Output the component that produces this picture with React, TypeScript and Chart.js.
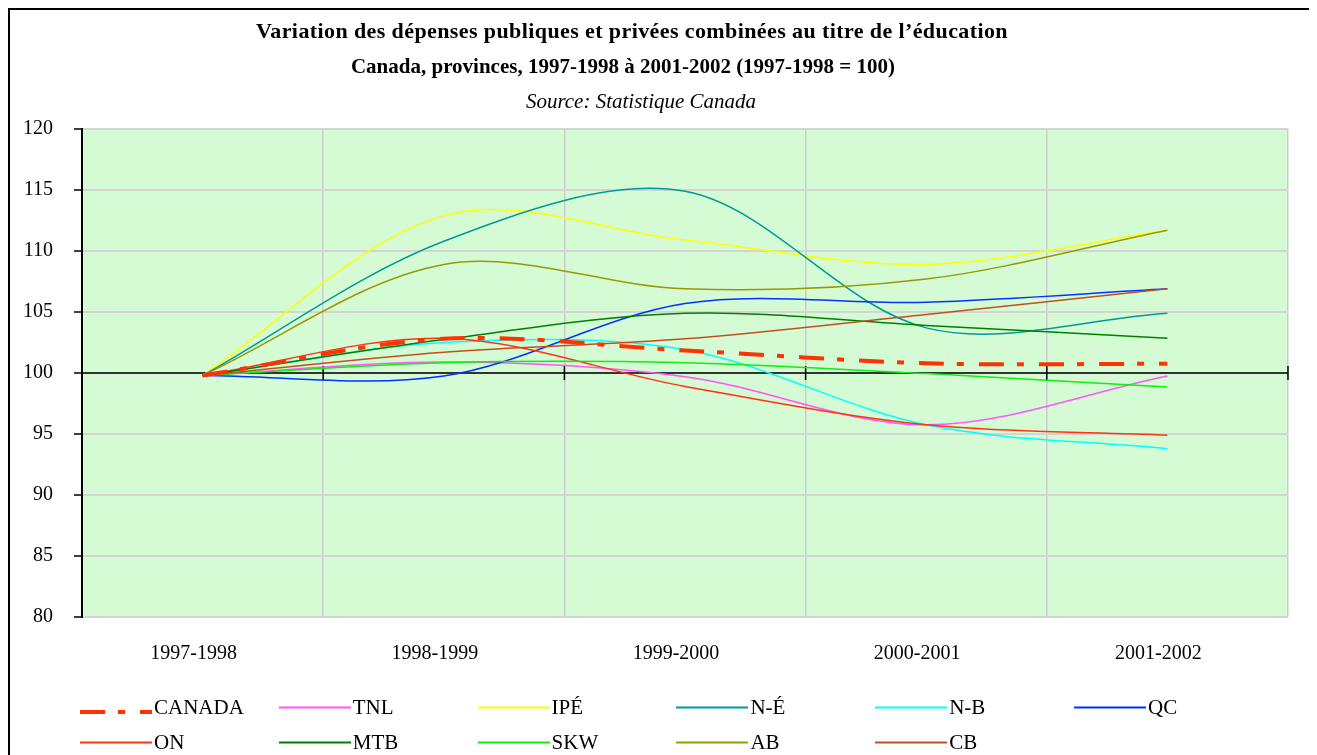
import React, { useEffect, useRef } from "react";
import { Chart, registerables } from "chart.js";

Chart.register(...registerables);

const categories = ["1997-1998", "1998-1999", "1999-2000", "2000-2001", "2001-2002"];

const seriesNames = ["CANADA", "TNL", "IPÉ", "N-É", "N-B", "QC", "ON", "MTB", "SKW", "AB", "CB"];

const canada = [99.8, 102.8, 101.85, 100.8, 100.75];
const tnl = [99.8, 100.9, 99.7, 95.75, 99.75];
const ipe = [99.8, 112.9, 110.9, 108.9, 111.7];
const ne = [99.8, 110.8, 114.9, 103.7, 104.9];
const nb = [99.8, 102.5, 101.9, 95.75, 93.8];
const qc = [99.8, 99.75, 105.7, 105.8, 106.9];
const on = [99.8, 102.85, 98.9, 95.75, 94.9];
const mtb = [99.8, 102.75, 104.9, 103.9, 102.85];
const skw = [99.8, 100.85, 100.85, 99.95, 98.85];
const ab = [99.8, 108.9, 106.9, 107.7, 111.7];
const cb = [99.8, 101.7, 102.8, 104.8, 106.9];

const seriesValues = [canada, tnl, ipe, ne, nb, qc, on, mtb, skw, ab, cb];

const colors = [
  "#FF3300", "#FF55FF", "#FFFF00", "#009999", "#00FFFF", "#0033FF",
  "#FF3311", "#008000", "#11EE11", "#999900", "#C05020",
];

const yMin = 80;
const yMax = 120;
const yStep = 5;
const axisCross = 100;

const titleLine1 = "Variation des dépenses publiques et privées combinées au titre de l’éducation";
const titleLine2 = "Canada, provinces, 1997-1998 à 2001-2002 (1997-1998 = 100)";
const titleLine3 = "Source: Statistique Canada";

const FONT = "'Liberation Serif', 'DejaVu Serif', serif";
const canadaDash = [25, 13, 7, 15];

const bgPlugin = {
  id: "plotBg",
  beforeDraw(chart: any) {
    const { ctx, chartArea } = chart;
    ctx.save();
    ctx.fillStyle = "#D5FBD5";
    ctx.fillRect(chartArea.left, chartArea.top, chartArea.right - chartArea.left, chartArea.bottom - chartArea.top);
    ctx.restore();
  },
};

const crossAxisPlugin = {
  id: "crossAxis",
  beforeDatasetsDraw(chart: any) {
    const { ctx, chartArea, scales } = chart;
    const y = scales.y.getPixelForValue(axisCross);
    const xs = scales.x;
    const step = xs.getPixelForValue(1) - xs.getPixelForValue(0);
    ctx.save();
    ctx.strokeStyle = "#333333";
    ctx.lineWidth = 2;
    ctx.beginPath();
    ctx.moveTo(chartArea.left, y);
    ctx.lineTo(chartArea.right, y);
    ctx.stroke();
    ctx.strokeStyle = "#000000";
    ctx.lineWidth = 1.5;
    for (let i = 0; i <= categories.length; i++) {
      const px = xs.getPixelForValue(0) + (i - 0.5) * step;
      ctx.beginPath();
      ctx.moveTo(px, y - 7);
      ctx.lineTo(px, y + 7);
      ctx.stroke();
    }
    ctx.restore();
  },
};

export default function App() {
  const canvasRef = useRef<HTMLCanvasElement | null>(null);

  useEffect(() => {
    if (!canvasRef.current) return;
    Chart.defaults.font.family = FONT;
    const datasets = seriesNames.map((name, i) => ({
      label: name,
      data: seriesValues[i],
      borderColor: colors[i],
      backgroundColor: colors[i],
      borderWidth: i === 0 ? 4 : 1.5,
      borderDash: i === 0 ? canadaDash : [],
      borderCapStyle: "butt" as const,
      tension: 0.33,
      pointRadius: 0,
      pointHoverRadius: 0,
      fill: false,
      order: i === 0 ? -1 : seriesNames.length - i,
    }));
    const chart = new Chart(canvasRef.current, {
      type: "line",
      data: { labels: categories, datasets },
      options: {
        animation: false,
        responsive: false,
        maintainAspectRatio: false,
        layout: { padding: { top: 119, right: 23, left: 0, bottom: 0 } },
        plugins: {
          legend: { display: false },
          title: { display: false },
          tooltip: { enabled: false },
        },
        scales: {
          x: {
            type: "category",
            offset: true,
            grid: { offset: true, color: "#CCCCCC", lineWidth: 1.5, drawTicks: false },
            border: { display: false },
            ticks: {
              color: "#000",
              font: { size: 20, family: FONT },
              padding: 25,
              maxRotation: 0,
              autoSkip: false,
              labelOffset: -9,
            },
            afterFit: (s: any) => {
              s.height = 138;
            },
          },
          y: {
            min: yMin,
            max: yMax,
            ticks: { stepSize: yStep, color: "#000", font: { size: 20, family: FONT }, padding: 21 },
            grid: { color: "#D4D4D4", lineWidth: 2, tickLength: 8, tickColor: "#000", tickWidth: 1.5 },
            border: { display: true, color: "#000", width: 2 },
            afterFit: (s: any) => {
              s.width = 72;
            },
          },
        },
      },
      plugins: [bgPlugin, crossAxisPlugin],
    });
    return () => chart.destroy();
  }, []);

  const titleBase: React.CSSProperties = {
    position: "absolute",
    width: 1244,
    textAlign: "center",
    whiteSpace: "nowrap",
    fontFamily: FONT,
    color: "#000",
    lineHeight: "24px",
  };

  return (
    <div
      style={{
        position: "relative",
        width: 1301,
        height: 745,
        borderTop: "2px solid #000",
        borderLeft: "2px solid #000",
        borderRight: "2px solid #000",
        background: "#fff",
        overflow: "hidden",
      }}
    >
      <canvas ref={canvasRef} width={1301} height={745} style={{ position: "absolute", left: 0, top: 0, display: "block" }} />
      <div style={{ ...titleBase, left: 0, top: 9, fontSize: 22, fontWeight: "bold", letterSpacing: "0.4px" }}>{titleLine1}</div>
      <div style={{ ...titleBase, left: -9, top: 44, fontSize: 21, fontWeight: "bold" }}>{titleLine2}</div>
      <div style={{ ...titleBase, left: 9, top: 79, fontSize: 21, fontStyle: "italic" }}>{titleLine3}</div>
      {seriesNames.map((name, i) => {
        const col = i % 6;
        const row = Math.floor(i / 6);
        const left = 70 + col * 198.8;
        const top = 685 + row * 35;
        const isCanada = i === 0;
        return (
          <div key={name} style={{ position: "absolute", left, top, height: 24 }}>
            <svg width={72} height={24} style={{ position: "absolute", left: 0, top: 0 }}>
              <line
                x1={0}
                x2={72}
                y1={isCanada ? 17 : 12.5}
                y2={isCanada ? 17 : 12.5}
                stroke={colors[i]}
                strokeWidth={isCanada ? 4 : 2}
                strokeDasharray={isCanada ? canadaDash.join(" ") : undefined}
              />
            </svg>
            <span
              style={{
                position: "absolute",
                left: 74,
                top: 0,
                fontFamily: FONT,
                fontSize: 21,
                lineHeight: "24px",
                whiteSpace: "nowrap",
                color: "#000",
              }}
            >
              {name}
            </span>
          </div>
        );
      })}
    </div>
  );
}
